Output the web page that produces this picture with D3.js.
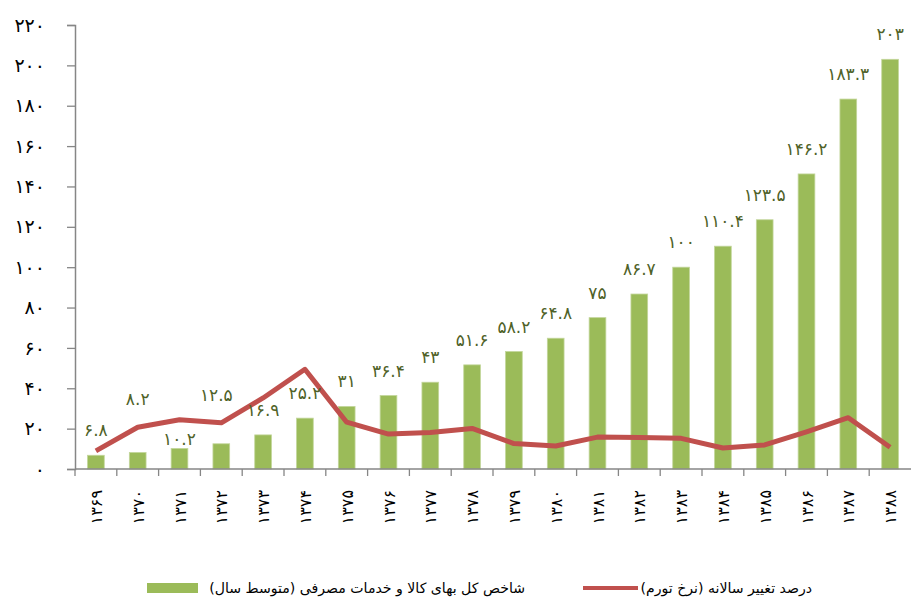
<!DOCTYPE html>
<html>
<head>
<meta charset="utf-8">
<script src="https://cdn.jsdelivr.net/npm/d3@7/dist/d3.min.js"></script>
<style>
  html, body { margin: 0; padding: 0; background: #fff; }
  svg { display: block; }
  text { font-family: "DejaVu Sans", "Noto Sans", sans-serif; }
</style>
</head>
<body>
<svg id="chart" width="911" height="599"></svg>
<script>
// Years (Solar Hijri calendar)
const years = ["1369","1370","1371","1372","1373","1374","1375","1376","1377","1378",
               "1379","1380","1381","1382","1383","1384","1385","1386","1387","1388"];
// Consumer price index, yearly average (base year 1383 = 100)
const cpi = [6.8, 8.2, 10.2, 12.5, 16.9, 25.2, 31, 36.4, 43, 51.6,
             58.2, 64.8, 75, 86.7, 100, 110.4, 123.5, 146.2, 183.3, 203];
// Annual percentage change (inflation rate)
const inflation = [9.0, 20.7, 24.4, 22.9, 35.2, 49.4, 23.2, 17.3, 18.1, 20.1,
                   12.6, 11.4, 15.8, 15.6, 15.2, 10.4, 11.9, 18.4, 25.4, 10.8];
const yTicks = [0, 20, 40, 60, 80, 100, 120, 140, 160, 180, 200, 220];
const legendBar = "شاخص کل بهای کالا و خدمات مصرفی (متوسط سال)";
const legendLine = "درصد تغییر سالانه (نرخ تورم)";

// Persian digits
const faDigits = "۰۱۲۳۴۵۶۷۸۹";
const fa = v => String(v).replace(/\d/g, d => faDigits[+d]);

const svg = d3.select("#chart");
const plotLeft = 75, plotRight = 911, plotTop = 25, plotBottom = 469;

const x = d3.scaleBand().domain(years).range([plotLeft, plotRight]).padding(0);
const y = d3.scaleLinear().domain([0, 220]).range([plotBottom, plotTop]);
const barW = x.bandwidth() * 0.4;
const cx = d => x(d) + x.bandwidth() / 2;

const axisColor = "#868686";

// Y axis
const yAxis = svg.append("g")
  .attr("transform", `translate(${plotLeft},0)`)
  .call(d3.axisLeft(y).tickValues(yTicks).tickSize(8).tickPadding(22).tickFormat(fa));
yAxis.select(".domain").attr("stroke", axisColor).attr("stroke-width", 1.5);
yAxis.selectAll(".tick line").attr("stroke", axisColor).attr("stroke-width", 1.3);
yAxis.selectAll(".tick text")
  .attr("font-size", 19)
  .attr("letter-spacing", 2)
  .attr("fill", "#000");

// Bars
svg.append("g").selectAll("rect")
  .data(years)
  .join("rect")
  .attr("x", (d) => cx(d) - barW / 2)
  .attr("width", barW)
  .attr("y", (d, i) => y(cpi[i]))
  .attr("height", (d, i) => y(0) - y(cpi[i]))
  .attr("fill", "#9BBB59")
  .attr("stroke", "#C3D69B")
  .attr("stroke-width", 0.8);

// X axis: baseline, boundary ticks and rotated year labels
const xAxis = svg.append("g");
xAxis.append("line")
  .attr("x1", plotLeft).attr("x2", plotRight)
  .attr("y1", y(0)).attr("y2", y(0))
  .attr("stroke", axisColor).attr("stroke-width", 1.5);
const bounds = years.map(d => x(d));
xAxis.selectAll("line.tick")
  .data(bounds)
  .join("line")
  .attr("class", "tick")
  .attr("x1", d => d).attr("x2", d => d)
  .attr("y1", y(0)).attr("y2", y(0) + 7)
  .attr("stroke", axisColor).attr("stroke-width", 1.3);
xAxis.selectAll("text")
  .data(years)
  .join("text")
  .attr("transform", d => `translate(${cx(d) + 6},${y(0) + 21}) rotate(-90)`)
  .attr("text-anchor", "end")
  .attr("font-size", 16)
  .attr("letter-spacing", 1)
  .attr("fill", "#000")
  .text(d => fa(d));

// Inflation line
const line = d3.line()
  .x((d, i) => cx(years[i]))
  .y(d => y(d));
svg.append("path")
  .datum(inflation)
  .attr("d", line)
  .attr("fill", "none")
  .attr("stroke", "#C0504D")
  .attr("stroke-width", 5)
  .attr("stroke-linejoin", "round");

// Value labels above the bars (a few lifted or lowered to clear the line)
const labelLift = { "1370": 53, "1371": 9, "1372": 49 };
const labelShift = { "1372": -5 };
svg.append("g").selectAll("text")
  .data(years)
  .join("text")
  .attr("x", d => cx(d) + (labelShift[d] || 0))
  .attr("y", (d, i) => y(cpi[i]) - (labelLift[d] !== undefined ? labelLift[d] : 25) + 6)
  .attr("text-anchor", "middle")
  .attr("font-size", 17)
  .attr("letter-spacing", 1)
  .attr("fill", "#4F6228")
  .text((d, i) => fa(cpi[i]));

// Legend
const lg = svg.append("g");
lg.append("rect")
  .attr("x", 147).attr("y", 583).attr("width", 51).attr("height", 10)
  .attr("fill", "#9BBB59");
lg.append("text")
  .attr("x", 525).attr("y", 593)
  .attr("direction", "rtl")
  .attr("text-anchor", "start")
  .attr("font-size", 14.1)
  .attr("fill", "#000")
  .text(legendBar);
lg.append("line")
  .attr("x1", 583).attr("x2", 638).attr("y1", 588).attr("y2", 588)
  .attr("stroke", "#C0504D").attr("stroke-width", 4);
lg.append("text")
  .attr("x", 812).attr("y", 593)
  .attr("direction", "rtl")
  .attr("text-anchor", "start")
  .attr("font-size", 14.1)
  .attr("fill", "#000")
  .text(legendLine);
</script>
</body>
</html>
